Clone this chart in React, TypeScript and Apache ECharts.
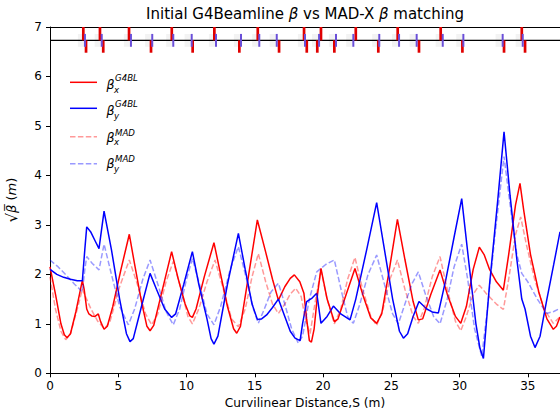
import React, { useEffect, useRef } from "react";
import * as echarts from "echarts";

const X_MAX = 37.36;
const Y_MAX = 7;
const X_INTERVAL = 5;
const Y_INTERVAL = 1;

const TITLE_PARTS = ["Initial G4Beamline ", "β", " vs MAD-X ", "β", " matching"];
const X_NAME = "Curvilinear Distance,S (m)";

// sqrt(beta) along S, G4Beamline, horizontal
const betaxG4BL: [number, number][] = [
  [0, 2.15], [0.4, 1.6], [0.8, 1.0], [1.05, 0.78], [1.25, 0.72], [1.5, 0.8], [1.9, 1.25], [2.37, 1.88],
  [2.5, 1.7], [2.69, 1.3], [2.85, 1.2], [3.05, 1.16], [3.3, 1.15], [3.54, 1.2], [3.7, 1.05], [3.96, 0.89],
  [4.2, 0.95], [4.6, 1.35], [5.2, 2.1], [5.81, 2.81], [6.2, 2.2], [6.7, 1.45], [7.1, 0.95], [7.33, 0.86],
  [7.6, 0.97], [8.2, 1.65], [8.91, 2.46], [9.4, 1.9], [9.9, 1.4], [10.25, 1.16], [10.43, 1.13], [10.7, 1.3],
  [11.3, 1.95], [12.01, 2.64], [12.5, 2.0], [13.0, 1.35], [13.45, 0.9], [13.68, 0.81], [13.95, 0.95],
  [14.5, 1.9], [15.19, 3.1], [15.8, 2.45], [16.3, 1.9], [16.73, 1.48], [17.2, 1.75], [17.6, 1.92],
  [17.9, 1.99], [18.3, 1.85], [18.6, 1.62], [18.8, 1.1], [19.0, 0.66], [19.15, 0.63], [19.35, 0.9],
  [19.6, 1.6], [19.85, 2.12], [20.3, 1.5], [20.83, 1.04], [21.1, 1.1], [21.7, 1.6], [22.34, 2.12],
  [22.9, 1.6], [23.5, 1.12], [23.93, 1.01], [24.3, 1.2], [24.8, 2.0], [25.45, 3.11], [26.0, 2.3],
  [26.6, 1.45], [26.98, 1.08], [27.3, 1.1], [27.9, 1.6], [28.57, 2.09], [29.1, 1.6], [29.7, 1.15],
  [30.09, 1.01], [30.5, 1.35], [31.0, 2.1], [31.45, 2.55], [31.8, 2.4], [32.2, 2.1], [32.7, 1.85],
  [33.21, 1.68], [33.6, 2.4], [34.1, 3.4], [34.43, 3.84], [34.7, 3.3], [35.2, 2.4], [35.8, 1.65],
  [36.4, 1.1], [36.87, 0.89], [37.1, 0.95], [37.36, 1.14],
];

// sqrt(beta) along S, G4Beamline, vertical
const betayG4BL: [number, number][] = [
  [0, 2.1], [0.5, 2.0], [1.0, 1.94], [1.5, 1.9], [2.0, 1.87], [2.37, 1.87], [2.55, 2.5], [2.69, 2.96],
  [3.0, 2.85], [3.3, 2.68], [3.59, 2.52], [3.96, 3.28], [4.5, 2.5], [5.1, 1.5], [5.6, 0.8], [5.86, 0.64],
  [6.1, 0.7], [6.7, 1.35], [7.33, 2.02], [7.8, 1.7], [8.4, 1.3], [8.91, 1.13], [9.2, 1.2], [9.8, 1.8],
  [10.43, 2.46], [10.9, 1.8], [11.5, 1.1], [11.8, 0.7], [12.01, 0.59], [12.3, 0.75], [13.0, 1.8],
  [13.8, 2.83], [14.3, 2.1], [14.8, 1.4], [15.19, 1.09], [15.5, 1.1], [15.87, 1.18], [16.3, 1.33],
  [16.73, 1.5], [17.2, 1.15], [17.6, 0.85], [17.95, 0.71], [18.32, 0.66], [18.5, 1.0], [18.8, 1.45],
  [19.2, 1.52], [19.54, 1.62], [19.85, 1.01], [20.3, 1.15], [20.76, 1.36], [21.3, 1.2], [21.98, 1.08],
  [22.4, 1.5], [23.2, 2.5], [23.93, 3.45], [24.5, 2.5], [25.1, 1.5], [25.6, 0.85], [25.89, 0.71],
  [26.2, 0.8], [26.6, 1.15], [27.03, 1.45], [27.6, 1.3], [28.0, 1.24], [28.45, 1.22], [29.0, 1.9],
  [29.6, 2.75], [30.16, 3.53], [30.7, 2.2], [31.2, 1.0], [31.5, 0.5], [31.75, 0.3], [32.2, 1.8],
  [32.8, 3.5], [33.26, 4.88], [33.7, 3.6], [34.2, 2.3], [34.56, 1.5], [34.8, 1.3], [35.2, 0.75],
  [35.53, 0.52], [35.9, 0.75], [36.4, 1.5], [36.9, 2.2], [37.36, 2.86],
];

// sqrt(beta) along S, MAD-X, horizontal
const betaxMAD: [number, number][] = [
  [0, 1.95], [0.4, 1.3], [0.8, 0.85], [1.15, 0.68], [1.5, 0.8], [2.0, 1.3], [2.37, 1.7], [2.6, 1.55],
  [3.0, 1.3], [3.5, 1.05], [4.0, 0.9], [4.4, 1.05], [5.1, 1.75], [5.81, 2.29], [6.4, 1.8], [7.0, 1.2],
  [7.45, 0.98], [7.9, 1.2], [8.5, 1.85], [9.03, 2.26], [9.6, 1.7], [10.1, 1.15], [10.43, 1.0], [10.9, 1.3],
  [11.5, 1.85], [12.09, 2.29], [12.7, 1.7], [13.3, 1.1], [13.8, 0.94], [14.3, 1.3], [14.8, 1.95],
  [15.26, 2.42], [15.8, 1.85], [16.3, 1.4], [16.73, 1.21], [17.2, 1.4], [17.6, 1.6], [18.0, 1.72],
  [18.4, 1.55], [18.7, 1.1], [19.05, 0.8], [19.4, 1.4], [19.85, 2.08], [20.3, 1.5], [20.83, 1.0],
  [21.3, 1.3], [21.8, 1.9], [22.34, 2.34], [22.9, 1.7], [23.5, 1.15], [23.93, 0.97], [24.4, 1.3],
  [24.9, 1.9], [25.45, 2.29], [26.0, 1.7], [26.6, 1.15], [26.98, 1.01], [27.4, 1.3], [28.0, 1.95],
  [28.57, 2.36], [29.1, 1.7], [29.7, 1.05], [30.09, 0.86], [30.5, 1.15], [31.0, 1.6], [31.45, 1.78],
  [32.0, 1.6], [32.7, 1.4], [33.21, 1.29], [33.6, 1.9], [34.1, 2.8], [34.48, 3.16], [34.9, 2.6],
  [35.5, 1.9], [36.2, 1.3], [36.87, 1.01], [37.36, 1.14],
];

// sqrt(beta) along S, MAD-X, vertical
const betayMAD: [number, number][] = [
  [0, 2.29], [0.6, 2.15], [1.2, 1.98], [1.8, 1.8], [2.37, 1.65], [2.55, 2.1], [2.69, 2.36], [3.1, 2.22],
  [3.59, 2.09], [3.96, 2.61], [4.5, 2.0], [5.1, 1.35], [5.74, 0.98], [6.2, 1.3], [6.8, 1.9], [7.33, 2.29],
  [7.9, 1.8], [8.5, 1.25], [9.03, 0.98], [9.5, 1.3], [10.0, 1.9], [10.43, 2.32], [11.0, 1.75], [11.5, 1.2],
  [12.01, 0.98], [12.5, 1.35], [13.2, 2.1], [13.8, 2.56], [14.4, 1.9], [14.9, 1.3], [15.26, 1.01],
  [15.7, 1.3], [16.2, 1.65], [16.73, 1.82], [17.2, 1.4], [17.7, 0.9], [18.19, 0.61], [18.5, 0.75],
  [19.0, 1.5], [19.54, 2.05], [20.2, 2.2], [20.83, 2.29], [21.4, 1.6], [21.8, 1.15], [22.22, 1.01],
  [22.7, 1.4], [23.3, 2.0], [23.93, 2.39], [24.5, 1.8], [25.1, 1.2], [25.52, 1.0], [26.0, 1.4],
  [26.5, 1.8], [26.98, 2.05], [27.5, 1.6], [28.1, 1.15], [28.57, 1.0], [29.1, 1.5], [29.6, 2.15],
  [30.16, 2.61], [30.6, 1.9], [31.1, 0.9], [31.63, 0.34], [32.0, 1.2], [32.6, 2.8], [33.26, 4.38],
  [33.8, 3.2], [34.2, 2.4], [34.56, 2.02], [35.0, 1.85], [35.7, 1.5], [36.39, 1.21], [36.9, 1.25],
  [37.36, 1.31],
];

// Lattice sketch along the top of the plot
const LATTICE_LEVEL = 6.73;
const quadFocus = [2.44, 3.66, 5.79, 8.92, 12.04, 15.22, 18.61, 19.85, 22.4, 25.47, 28.62, 34.56];
const quadDefocus = [2.64, 3.9, 7.4, 10.45, 13.87, 16.78, 18.81, 19.58, 20.83, 24.05, 27.03, 30.21, 33.26, 34.8];
const correctors = [2.56, 3.79, 5.93, 7.49, 9.03, 10.38, 12.16, 13.99, 15.33, 16.61, 18.68, 19.71, 20.95, 22.22,
  24.12, 25.57, 26.86, 28.77, 30.28, 33.16, 34.63];

const FONT = "DejaVu Sans";

function barSeries(name: string, positions: number[], y0: number, y1: number, color: string, width: number, z: number) {
  return {
    name,
    type: "custom",
    silent: true,
    clip: false,
    z,
    data: positions.map((s) => [s, y0, y1]),
    encode: { x: 0, y: [1, 2] },
    renderItem: (_params: any, api: any) => {
      const s = api.value(0);
      const a = api.coord([s, api.value(2)]);
      const b = api.coord([s, api.value(1)]);
      return {
        type: "rect",
        shape: { x: a[0] - width / 2, y: a[1], width, height: b[1] - a[1] },
        style: { fill: color },
      };
    },
  };
}

export default function App() {
  const ref = useRef<HTMLDivElement>(null);

  useEffect(() => {
    if (!ref.current) return;
    const chart = echarts.init(ref.current, null, { renderer: "svg" });

    const legendRows = [
      { sup: "G4BL", sub: "x", color: "#ff0000", dash: false, line: 82.3, beta: 84.5, supY: 78.3, subY: 89.5 },
      { sup: "G4BL", sub: "y", color: "#0000ff", dash: false, line: 108.3, beta: 110.3, supY: 104.3, subY: 116.0 },
      { sup: "MAD", sub: "x", color: "rgba(255,0,0,0.4)", dash: true, line: 136.7, beta: 137.5, supY: 132.5, subY: 142.0 },
      { sup: "MAD", sub: "y", color: "rgba(0,0,255,0.4)", dash: true, line: 163.7, beta: 163.5, supY: 158.5, subY: 168.5 },
    ];

    const titleRich = TITLE_PARTS.map((p, i) => (i % 2 === 1 ? `{i|${p}}` : `{n|${p}}`)).join("");

    const graphic: any[] = [
      {
        type: "text",
        x: 305,
        y: 13.5,
        style: {
          text: titleRich,
          fill: "#000",
          align: "center",
          verticalAlign: "middle",
          rich: {
            n: { fontSize: 15, fontFamily: FONT, fill: "#000" },
            i: { fontSize: 15, fontFamily: FONT, fontStyle: "italic", fill: "#000" },
          },
        },
      },
    ];
    legendRows.forEach((r) => {
      graphic.push({
        type: "line",
        shape: { x1: 70, y1: r.line, x2: 97, y2: r.line },
        style: { stroke: r.color, lineWidth: 1.5, lineDash: r.dash ? [5.5, 2.4] : null },
        z: 100,
      });
      graphic.push({
        type: "text",
        x: 106.5,
        y: r.beta,
        style: { text: "β", font: `italic 12.5px '${FONT}'`, fill: "#000", verticalAlign: "middle" },
        z: 100,
      });
      graphic.push({
        type: "text",
        x: 115,
        y: r.supY,
        style: { text: r.sup, font: `italic 8.6px '${FONT}'`, fill: "#000", verticalAlign: "middle" },
        z: 100,
      });
      graphic.push({
        type: "text",
        x: 114,
        y: r.subY,
        style: { text: r.sub, font: `italic 8.6px '${FONT}'`, fill: "#000", verticalAlign: "middle" },
        z: 100,
      });
    });

    const lineSeries = (name: string, data: [number, number][], color: string, dashed: boolean, z: number) => ({
      name,
      type: "line",
      data,
      showSymbol: false,
      symbol: "none",
      z,
      lineStyle: { color, width: 1.5, type: dashed ? [5.5, 2.4] : "solid" },
    });

    const axisCommon = {
      axisLine: { show: true, lineStyle: { color: "#000", width: 1 } },
      axisTick: { show: true, length: 4, inside: false, lineStyle: { color: "#000", width: 1 } },
      splitLine: { show: false },
    };

    const option: any = {
      animation: false,
      backgroundColor: "#fff",
      textStyle: { fontFamily: FONT },
      grid: { left: 50, right: 0, top: 27, bottom: 46.7, containLabel: false, outerBoundsMode: "none" },
      xAxis: [
        {
          type: "value",
          min: 0,
          max: X_MAX,
          interval: X_INTERVAL,
          ...axisCommon,
          axisLabel: {
            color: "#000",
            fontSize: 12,
            fontFamily: FONT,
            margin: 7,
            showMaxLabel: false,
            formatter: (v: number) => (Math.abs(v % X_INTERVAL) < 1e-9 ? String(v) : ""),
          },
          name: X_NAME,
          nameLocation: "middle",
          nameGap: 24,
          nameTextStyle: { color: "#000", fontSize: 12.2, fontFamily: FONT, verticalAlign: "top" },
        },
        {
          type: "value",
          position: "top",
          min: 0,
          max: X_MAX,
          axisLine: { show: true, lineStyle: { color: "#000", width: 1 } },
          axisTick: { show: false },
          axisLabel: { show: false },
          splitLine: { show: false },
        },
      ],
      yAxis: {
        type: "value",
        min: 0,
        max: Y_MAX,
        interval: Y_INTERVAL,
        ...axisCommon,
        axisLabel: { color: "#000", fontSize: 12, fontFamily: FONT, margin: 8 },
        name: "{r|√}{i|β̅} {n|(}{i|m}{n|)}",
        nameLocation: "middle",
        nameRotate: 90,
        nameGap: 31,
        nameTextStyle: {
          color: "#000",
          fontSize: 13,
          fontFamily: FONT,
          rich: {
            r: { fontSize: 15, fontFamily: FONT, color: "#000" },
            n: { fontSize: 13, fontFamily: FONT, color: "#000" },
            i: { fontSize: 13, fontFamily: FONT, fontStyle: "italic", color: "#000" },
          },
        },
      },
      graphic,
      series: [
        barSeries("drift", correctors.map((s) => s - 0.3), LATTICE_LEVEL - 0.13, LATTICE_LEVEL + 0.13, "#f3f3f3", 6, 1),
        {
          name: "lattice",
          type: "line",
          data: [[0, LATTICE_LEVEL], [X_MAX, LATTICE_LEVEL]],
          showSymbol: false,
          symbol: "none",
          z: 2,
          lineStyle: { color: "#000", width: 1.2 },
        },
        barSeries("quadF", quadFocus, LATTICE_LEVEL, Y_MAX, "#e00000", 2.7, 3),
        barSeries("quadD", quadDefocus, LATTICE_LEVEL - 0.25, LATTICE_LEVEL, "#e00000", 2.7, 3),
        barSeries("corr", correctors, LATTICE_LEVEL - 0.13, LATTICE_LEVEL + 0.13, "#6a4fd8", 2, 4),
        lineSeries("betaxG4BL", betaxG4BL, "#ff0000", false, 5),
        lineSeries("betayG4BL", betayG4BL, "#0000ff", false, 6),
        lineSeries("betaxMAD", betaxMAD, "rgba(255,0,0,0.4)", true, 7),
        lineSeries("betayMAD", betayMAD, "rgba(0,0,255,0.4)", true, 8),
      ],
    };

    chart.setOption(option);
    return () => chart.dispose();
  }, []);

  return (
    <div
      ref={ref}
      style={{ position: "fixed", left: 0, top: 0, width: 560, height: 420, background: "#fff" }}
    />
  );
}
